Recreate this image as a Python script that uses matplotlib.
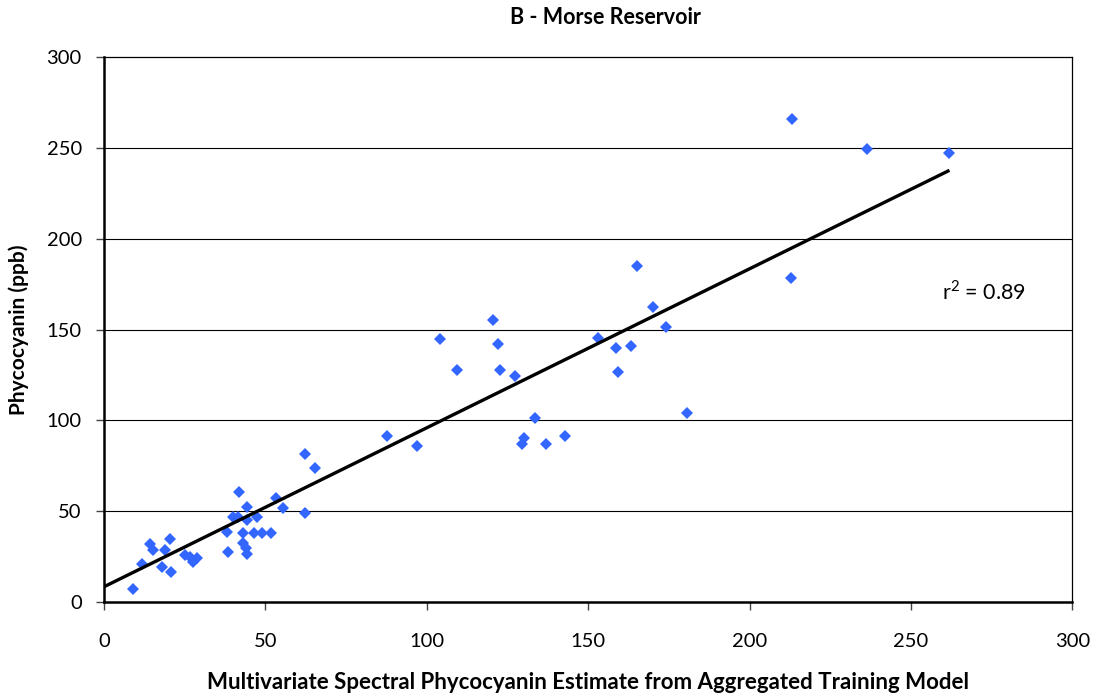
import numpy as np
import matplotlib
matplotlib.use("Agg")
import matplotlib.pyplot as plt

plt.rcParams['font.family'] = ['Lato', 'DejaVu Sans']
plt.rcParams['mathtext.fontset'] = 'custom'
plt.rcParams['mathtext.rm'] = 'Lato'

# spectral estimate (x) vs measured phycocyanin (y), ppb
estimate = [9.1, 11.9, 14.2, 15.3, 17.9, 18.9, 20.4, 20.6, 25.1, 26.6, 27.7, 28.7,
            38.3, 38.0, 41.9, 40.0, 41.6, 44.2, 44.2, 47.3, 42.9, 46.4, 49.0, 51.7,
            42.9, 43.9, 44.2, 53.3, 55.5, 62.4, 65.3, 62.4,
            87.7, 96.8, 104.2, 109.4, 120.5, 122.1, 122.6, 127.2, 133.5, 130.0, 129.6,
            136.9, 142.7, 153.0, 158.7, 159.2, 163.3, 170.1, 174.2, 180.6, 165.0,
            212.7, 213.0, 236.5, 261.9]
measured = [7.2, 21.0, 32.0, 28.7, 19.5, 28.7, 34.7, 16.4, 25.9, 25.0, 22.2, 24.1,
            27.7, 38.8, 60.5, 47.0, 47.0, 52.2, 45.2, 46.7, 37.9, 37.9, 37.9, 37.9,
            32.4, 29.6, 26.5, 57.5, 52.0, 81.8, 73.7, 49.3,
            91.2, 86.2, 145.0, 127.8, 155.4, 142.1, 127.8, 124.7, 101.3, 90.5, 86.8,
            86.8, 91.2, 145.4, 139.9, 126.7, 140.8, 162.5, 151.3, 104.4, 185.3,
            178.7, 265.9, 249.3, 247.1]
# linear trend: measured = slope * estimate + intercept
trend_slope = 0.876
trend_intercept = 8.4
r2_text = "0.89"
title = "B - Morse Reservoir"
x_ticks = [0, 50, 100, 150, 200, 250, 300]
y_ticks = [0, 50, 100, 150, 200, 250, 300]

fig = plt.figure(figsize=(11.02, 7.0), dpi=100)
ax = fig.add_axes([0.0944, 0.14, 0.8788, 0.7779])

ax.set_xlim(0, 300)
ax.set_ylim(0, 300)
ax.set_xticks(x_ticks)
ax.set_yticks(y_ticks)

for v in y_ticks[1:-1]:
    ax.axhline(v, color='black', linewidth=0.8, zorder=0)

ax.plot(estimate, measured, linestyle='none', marker='D', markersize=6.6,
        color='#3366FF', markeredgewidth=0, zorder=3)

xs = np.array([0, max(estimate)])
ax.plot(xs, trend_slope * xs + trend_intercept, color='black', linewidth=2.4,
        solid_capstyle='butt', zorder=4)

ax.text(259.5, 171, r"r$^{2}$ = " + r2_text, fontsize=15.5, va='center', ha='left')

for s in ['left', 'bottom']:
    ax.spines[s].set_linewidth(1.8)
for s in ['top', 'right']:
    ax.spines[s].set_linewidth(0.9)

ax.tick_params(axis='x', direction='out', length=6, width=1, color='#444444',
               labelsize=14.5, pad=16)
ax.tick_params(axis='y', direction='out', length=6, width=1, color='#444444',
               labelsize=14.5, pad=10)

ax.set_xlabel("Multivariate Spectral Phycocyanin Estimate from Aggregated Training Model",
              fontsize=16, fontweight='bold', labelpad=16)
ax.set_ylabel("Phycocyanin (ppb)", fontsize=15, fontweight='bold', labelpad=13)
fig.text(0.549, 0.975, title, fontsize=15.5, fontweight='bold', ha='center', va='center')

fig.savefig("out.png", dpi=100)
